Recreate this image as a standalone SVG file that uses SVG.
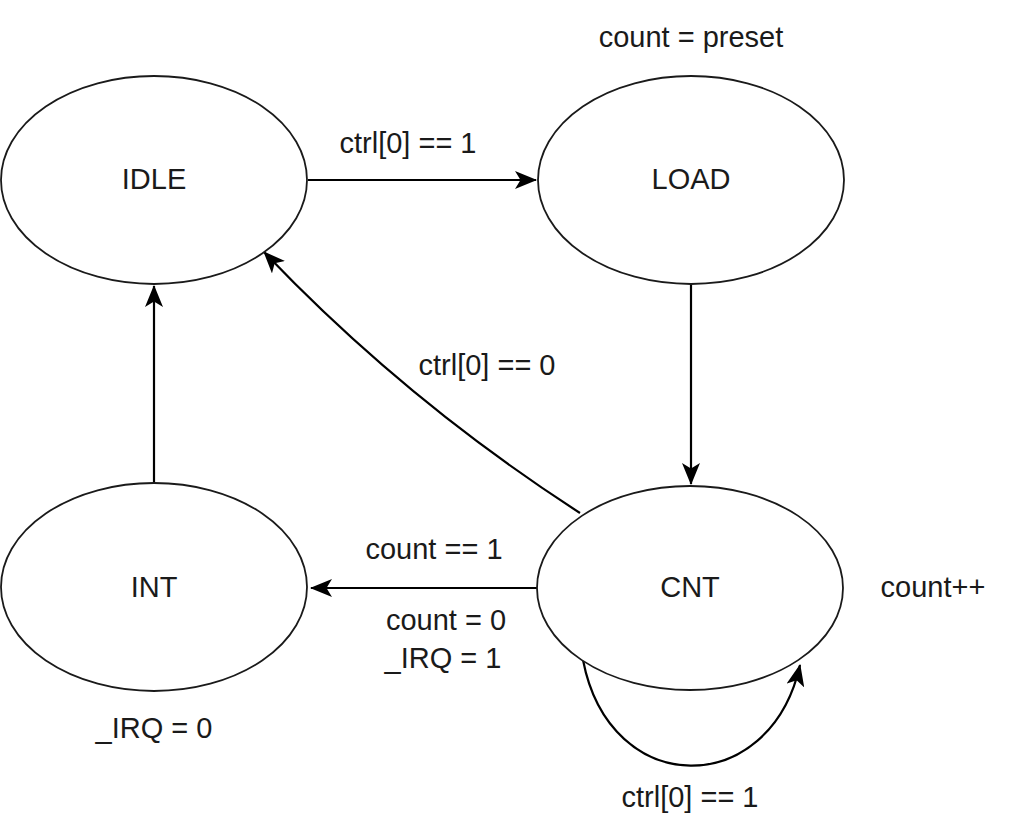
<svg xmlns="http://www.w3.org/2000/svg" width="1024" height="838" viewBox="0 0 1024 838">
<style>
.node{fill:#fff;stroke:#1a1a1a;stroke-width:1.8}
.edge{fill:none;stroke:#000;stroke-width:2.2}
text{font-family:"Liberation Sans",Arial,sans-serif;font-size:29px;fill:#1a1a1a}
.c{text-anchor:middle}
</style>
<defs>
<marker id="arr" viewBox="0 0 10 10" refX="9" refY="5" markerWidth="8" markerHeight="8" markerUnits="userSpaceOnUse" orient="auto" overflow="visible">
<path d="M0,0 L10,5 L0,10 L2.5,5 Z" fill="#000" transform="scale(2.2)"/>
</marker>
<marker id="a" viewBox="0 0 22 18" refX="21" refY="9" markerWidth="22" markerHeight="18" markerUnits="userSpaceOnUse" orient="auto">
<path d="M0,0 L22,9 L0,18 L5.5,9 Z" fill="#000"/>
</marker>
</defs>
<g id="connectors">
<path class="edge" d="M308,180 L536,180" marker-end="url(#a)"/>
<path class="edge" d="M691,284 L691,484" marker-end="url(#a)"/>
<path class="edge" d="M154,483 L154,286" marker-end="url(#a)"/>
<path class="edge" d="M537,588 L311,588" marker-end="url(#a)"/>
<path class="edge" d="M580,513 Q405,400 264,252" marker-end="url(#a)"/>
<path class="edge" d="M583,660 C610,800 770,800 800,665" marker-end="url(#a)"/>
</g>
<g id="IDLE"><ellipse class="node" cx="154" cy="180" rx="153" ry="104"/><text class="c" x="154" y="189">IDLE</text></g>
<g id="LOAD"><ellipse class="node" cx="691" cy="180" rx="153" ry="104"/><text class="c" x="691" y="189">LOAD</text></g>
<g id="INT"><ellipse class="node" cx="154" cy="587" rx="153" ry="104"/><text class="c" x="154" y="597">INT</text></g>
<g id="CNT"><ellipse class="node" cx="690" cy="588" rx="153" ry="102"/><text class="c" x="690" y="597">CNT</text></g>
<g id="labels">
<text class="c" x="691" y="47">count = preset</text>
<text class="c" x="408" y="153">ctrl[0] == 1</text>
<text class="c" x="487" y="375">ctrl[0] == 0</text>
<text class="c" x="434" y="559">count == 1</text>
<text class="c" x="446" y="630">count = 0</text>
<text class="c" x="443" y="668">_IRQ = 1</text>
<text class="c" x="933" y="597">count++</text>
<text class="c" x="154" y="738">_IRQ = 0</text>
<text class="c" x="690" y="807">ctrl[0] == 1</text>
</g>
</svg>
